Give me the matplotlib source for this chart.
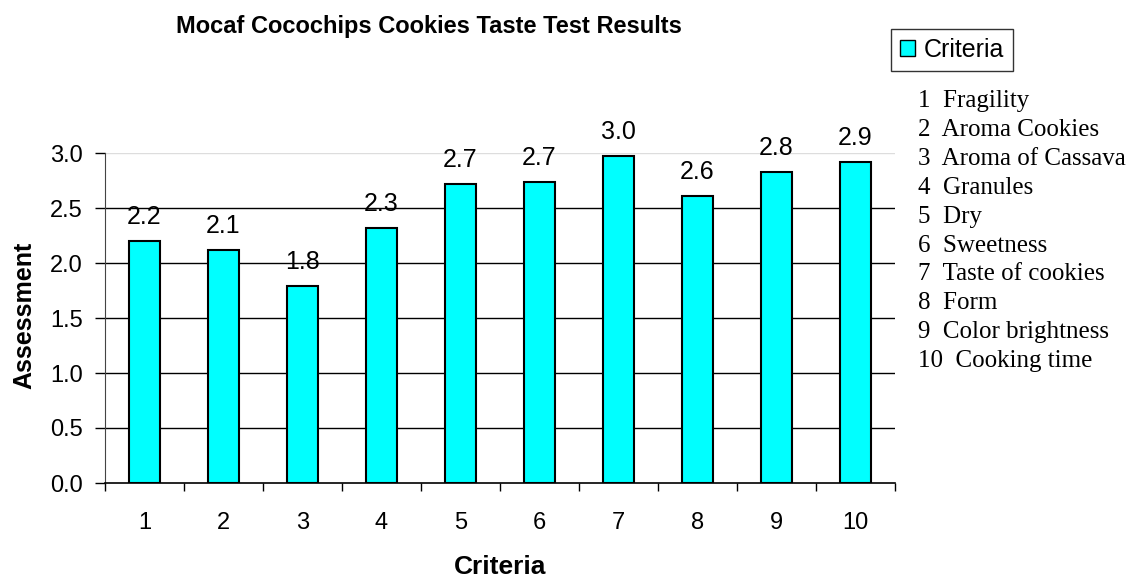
import matplotlib
matplotlib.use("Agg")
import matplotlib.pyplot as plt
import numpy as np
from matplotlib.patches import Patch

criteria = [1, 2, 3, 4, 5, 6, 7, 8, 9, 10]
assessment = [2.20, 2.12, 1.79, 2.32, 2.72, 2.74, 2.97, 2.61, 2.83, 2.92]
criteria_names = [
    "1  Fragility",
    "2  Aroma Cookies",
    "3  Aroma of Cassava",
    "4  Granules",
    "5  Dry",
    "6  Sweetness",
    "7  Taste of cookies",
    "8  Form",
    "9  Color brightness",
    "10  Cooking time",
]
y_ticks = [0.0, 0.5, 1.0, 1.5, 2.0, 2.5, 3.0]

W, H = 1131, 578
fig = plt.figure(figsize=(W / 100, H / 100), dpi=100)
ax = fig.add_axes([105 / W, 1 - 483 / H, (895 - 105) / W, (483 - 153) / H])

sans = "Liberation Sans"
serif = "Liberation Serif"

for y in y_ticks[1:-1]:
    ax.axhline(y, color="black", lw=1.0, zorder=0)
ax.axhline(3.0, color="#dddddd", lw=1.0, zorder=0)

x = np.array(criteria)
ax.bar(x, assessment, width=0.405, color="#00ffff", edgecolor="black",
       linewidth=1.5, zorder=2)
for xi, v in zip(x, assessment):
    ax.annotate(f"{v:.1f}", (xi, v), xytext=(0, 12.2), textcoords="offset points",
                ha="center", va="baseline", fontsize=18, family=sans)

ax.set_xlim(0.5, 10.5)
ax.set_ylim(0, 3.0)
ax.set_yticks(y_ticks)
ax.set_yticklabels([f"{t:.1f}" for t in y_ticks], fontsize=17, family=sans)
ax.set_xticks(x)
ax.set_xticklabels([str(c) for c in criteria], fontsize=17, family=sans)
ax.set_xticks(np.arange(0.5, 11, 1.0), minor=True)
ax.tick_params(axis="x", which="major", length=0, pad=21)
ax.tick_params(axis="x", which="minor", length=6, width=1, direction="out")
ax.tick_params(axis="y", length=7, width=1, direction="out", pad=9)
for s in ["top", "right"]:
    ax.spines[s].set_visible(False)
ax.spines["left"].set_color("#444444")
ax.spines["bottom"].set_linewidth(1.2)

fig.text(500 / W, 1 - 574 / H, "Criteria", ha="center", va="baseline",
         fontsize=19, fontweight="bold", family=sans)
fig.text(24 / W, 1 - 315 / H, "Assessment", ha="center", va="center", rotation=90,
         fontsize=18, fontweight="bold", family=sans)

fig.text(429 / W, 1 - 33 / H, "Mocaf Cocochips Cookies Taste Test Results",
         ha="center", va="baseline", fontsize=17, fontweight="bold", family=sans)

leg = fig.legend(handles=[Patch(facecolor="#00ffff", edgecolor="black", label="Criteria")],
                 loc="center", bbox_to_anchor=(952 / W, 1 - 50 / H),
                 prop={"family": sans, "size": 18}, frameon=True, fancybox=False,
                 handlelength=0.6, handleheight=0.6, handletextpad=0.35,
                 borderpad=0.35, borderaxespad=0)
leg.get_frame().set_edgecolor("black")
leg.get_frame().set_linewidth(1.0)

for i, name in enumerate(criteria_names):
    fig.text(918 / W, 1 - (101 + i * 28.9) / H, name, ha="left", va="center",
             fontsize=18, family=serif)

fig.savefig("out.png", dpi=100)
